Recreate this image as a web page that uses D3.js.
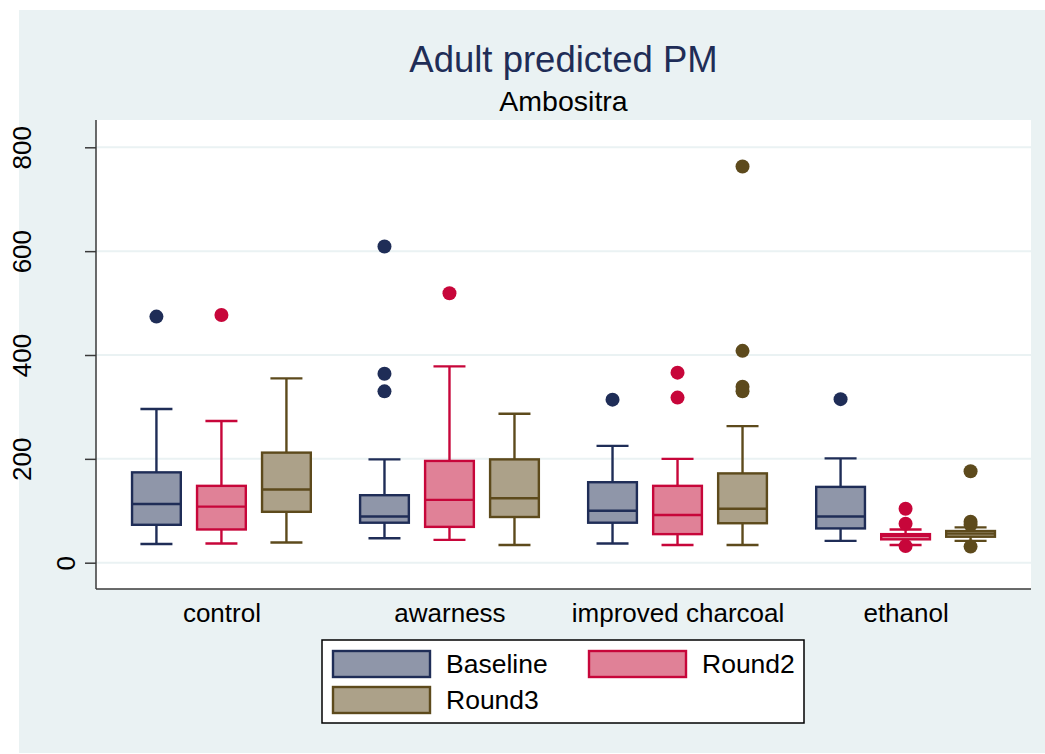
<!DOCTYPE html>
<html><head><meta charset="utf-8">
<script src="https://cdn.jsdelivr.net/npm/d3@7"></script>
<style>body{margin:0;background:#fff}svg{display:block}text{font-family:"Liberation Sans",Arial,sans-serif}</style>
</head><body><svg id="c" width="1045" height="754"></svg>
<script>
// ---------- data ----------
const categories = ["control", "awarness", "improved charcoal", "ethanol"];
const seriesNames = ["Baseline", "Round2", "Round3"];
const yTicks = [0, 200, 400, 600, 800];

const baselineLo  = [36, 47, 37, 42];
const baselineQ1  = [73, 77, 77, 66];
const baselineMed = [113, 89, 100, 89];
const baselineQ3  = [174, 130, 155, 146];
const baselineHi  = [296, 199, 225, 201];
const baselineOut = [[474], [609, 364, 330], [314], [315]];

const round2Lo  = [37, 44, 34, 34];
const round2Q1  = [64, 69, 55, 45];
const round2Med = [108, 121, 92, 52];
const round2Q3  = [148, 196, 148, 55];
const round2Hi  = [273, 378, 200, 64];
const round2Out = [[477], [519], [366, 318], [104, 75, 32]];

const round3Lo  = [39, 34, 34, 42];
const round3Q1  = [98, 88, 76, 50];
const round3Med = [141, 124, 104, 56];
const round3Q3  = [212, 199, 172, 61];
const round3Hi  = [355, 287, 263, 68];
const round3Out = [[], [], [763, 408, 339, 330], [176, 79, 73, 31]];

const fills   = ["#8f96a9", "#e08197", "#aca189"];
const strokes = ["#1f2d57", "#c7063a", "#5d4a1c"];

// ---------- build ----------
const seriesData = [
  {lo: baselineLo, q1: baselineQ1, med: baselineMed, q3: baselineQ3, hi: baselineHi, out: baselineOut},
  {lo: round2Lo, q1: round2Q1, med: round2Med, q3: round2Q3, hi: round2Hi, out: round2Out},
  {lo: round3Lo, q1: round3Q1, med: round3Med, q3: round3Q3, hi: round3Hi, out: round3Out}
];
const boxes = [];
seriesData.forEach((s, si) => categories.forEach((c, ci) => {
  boxes.push({series: seriesNames[si], si, cat: c, lo: s.lo[ci], q1: s.q1[ci], med: s.med[ci], q3: s.q3[ci], hi: s.hi[ci], out: s.out[ci]});
}));

const W = 1045, H = 754;
const plot = {left: 96, right: 1031, top: 120, bottom: 589};
const svg = d3.select("#c");

// outer background
svg.append("rect").attr("x", 19).attr("y", 10).attr("width", W - 19).attr("height", H - 1 - 10).attr("fill", "#eaf2f3");
svg.append("rect").attr("x", plot.left).attr("y", plot.top).attr("width", plot.right - plot.left).attr("height", plot.bottom - plot.top).attr("fill", "#ffffff");

const y = d3.scaleLinear().domain([0, 800]).range([562.7, 147.3]);
const x = d3.scalePoint().domain(categories).range([plot.left, plot.right]).padding(0.55);
const xs = d3.scaleBand().domain(seriesNames).range([-97.5, 97.5]).paddingInner(0.25).paddingOuter(0.125);
const cx = d => x(d.cat) + xs(d.series) + xs.bandwidth() / 2;

// gridlines
svg.append("g").selectAll("line").data(yTicks).join("line")
  .attr("x1", plot.left).attr("x2", plot.right)
  .attr("y1", d => y(d)).attr("y2", d => y(d))
  .attr("stroke", "#eaf2f3").attr("stroke-width", 2);

// y axis
const yAxis = svg.append("g").attr("transform", `translate(${plot.left},0)`)
  .call(d3.axisLeft(y).tickValues(yTicks).tickSize(11).tickPadding(0).tickFormat(d3.format("d")));
yAxis.select(".domain").remove();
yAxis.selectAll(".tick line").attr("stroke", "#3a3a3a").attr("stroke-width", 1.5);
yAxis.selectAll(".tick text")
  .attr("font-size", 26).attr("fill", "#000").attr("text-anchor", "middle").attr("dy", null)
  .attr("dominant-baseline", "central")
  .attr("transform", d => `translate(${-30 - (String(d).length - 1) * 22},0) rotate(-90)`)
  .attr("x", 0).attr("y", 0);
svg.append("line").attr("x1", plot.left).attr("x2", plot.left).attr("y1", plot.top).attr("y2", plot.bottom)
  .attr("stroke", "#3a3a3a").attr("stroke-width", 1.5);
svg.append("line").attr("x1", plot.left).attr("x2", plot.right).attr("y1", plot.bottom).attr("y2", plot.bottom)
  .attr("stroke", "#3a3a3a").attr("stroke-width", 1.5);

// x labels
const xAxis = svg.append("g").attr("transform", `translate(0,${plot.bottom})`)
  .call(d3.axisBottom(x).tickSize(0).tickPadding(0));
xAxis.select(".domain").remove();
xAxis.selectAll(".tick text").attr("font-size", 26).attr("fill", "#000").attr("dy", null).attr("y", 33);

// boxes
const capW = 32, sw = 2.4;
const g = svg.append("g").selectAll("g").data(boxes).join("g");
g.append("line").attr("x1", cx).attr("x2", cx).attr("y1", d => y(d.q3)).attr("y2", d => y(d.hi))
  .attr("stroke", d => strokes[d.si]).attr("stroke-width", sw);
g.append("line").attr("x1", cx).attr("x2", cx).attr("y1", d => y(d.q1)).attr("y2", d => y(d.lo))
  .attr("stroke", d => strokes[d.si]).attr("stroke-width", sw);
g.append("line").attr("x1", d => cx(d) - capW / 2).attr("x2", d => cx(d) + capW / 2).attr("y1", d => y(d.hi)).attr("y2", d => y(d.hi))
  .attr("stroke", d => strokes[d.si]).attr("stroke-width", sw);
g.append("line").attr("x1", d => cx(d) - capW / 2).attr("x2", d => cx(d) + capW / 2).attr("y1", d => y(d.lo)).attr("y2", d => y(d.lo))
  .attr("stroke", d => strokes[d.si]).attr("stroke-width", sw);
g.append("rect").attr("x", d => cx(d) - xs.bandwidth() / 2).attr("width", xs.bandwidth())
  .attr("y", d => y(d.q3)).attr("height", d => y(d.q1) - y(d.q3))
  .attr("fill", d => fills[d.si]).attr("stroke", d => strokes[d.si]).attr("stroke-width", sw);
g.append("line").attr("x1", d => cx(d) - xs.bandwidth() / 2).attr("x2", d => cx(d) + xs.bandwidth() / 2)
  .attr("y1", d => y(d.med)).attr("y2", d => y(d.med))
  .attr("stroke", d => strokes[d.si]).attr("stroke-width", sw);
g.each(function(d) {
  d3.select(this).selectAll("circle").data(d.out).join("circle")
    .attr("cx", cx(d)).attr("cy", v => y(v)).attr("r", 7).attr("fill", strokes[d.si]);
});

// titles
svg.append("text").attr("x", (plot.left + plot.right) / 2).attr("y", 72).attr("text-anchor", "middle")
  .attr("font-size", 36.5).attr("fill", "#1f2d57").text("Adult predicted PM");
svg.append("text").attr("x", (plot.left + plot.right) / 2).attr("y", 111).attr("text-anchor", "middle")
  .attr("font-size", 28.5).attr("fill", "#000").text("Ambositra");

// legend
const leg = svg.append("g");
leg.append("rect").attr("x", 322).attr("y", 640).attr("width", 482).attr("height", 83)
  .attr("fill", "#fff").attr("stroke", "#000").attr("stroke-width", 1.5);
const legCol = d3.scaleOrdinal().domain([0, 1]).range([333, 589]);
const legRow = d3.scaleOrdinal().domain([0, 1]).range([651, 687]);
const li = leg.selectAll("g.item").data(seriesNames).join("g").attr("class", "item")
  .attr("transform", (d, i) => `translate(${legCol(i % 2)},${legRow(Math.floor(i / 2))})`);
li.append("rect").attr("width", 97).attr("height", 26)
  .attr("fill", (d, i) => fills[i]).attr("stroke", (d, i) => strokes[i]).attr("stroke-width", 2.4);
li.append("text").attr("x", 113).attr("y", 22).attr("font-size", 26.5).attr("fill", "#000").text(d => d);
</script></body></html>
